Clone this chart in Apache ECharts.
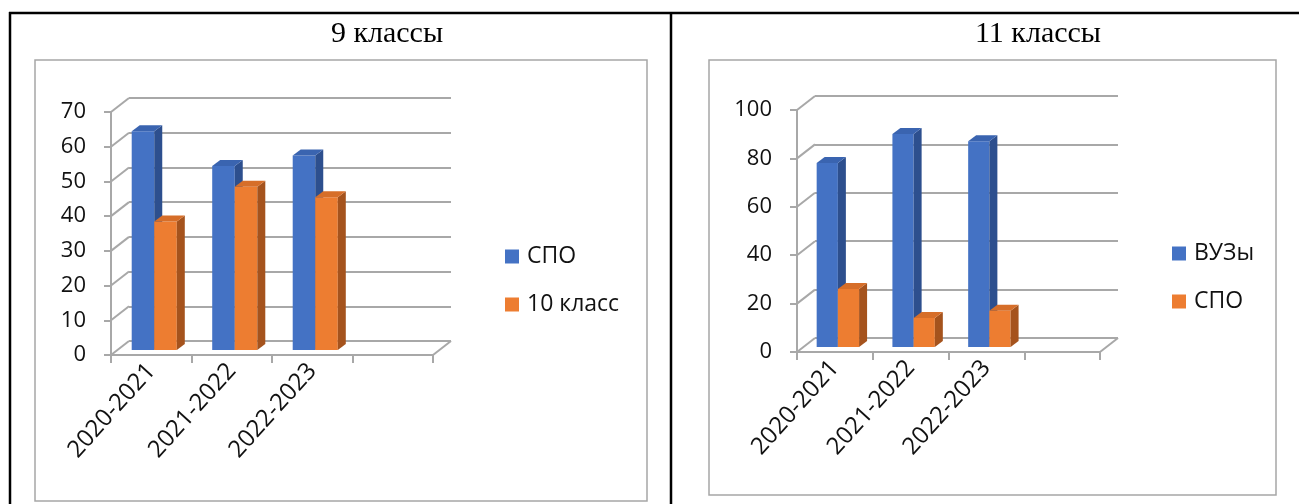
<!DOCTYPE html>
<html>
<head>
<meta charset="utf-8">
<script src="https://cdn.jsdelivr.net/npm/echarts@6/dist/echarts.min.js"></script>
<style>
  html, body { margin: 0; padding: 0; background: #fff; }
  #chart { width: 1299px; height: 504px; }
</style>
</head>
<body>
<div id="chart"></div>
<script>
// данные
var categories = ["2020-2021", "2021-2022", "2022-2023", ""];
var spo9 = [63, 53, 56];
var class10 = [37, 47, 44];
var vuz11 = [76, 88, 85];
var spo11 = [24, 12, 15];
var ticks9 = [0, 10, 20, 30, 40, 50, 60, 70];
var ticks11 = [0, 20, 40, 60, 80, 100];

// 3D look
var DX = 18, DY = -14; // back wall offset
var MX = 6, MY = -5;   // bars sit in the middle of the floor
var SD = 8, SH = 6;    // bar side depth
var BLUE = { front: "#4472C4", side: "#2D4F8E", top: "#3A64B0" };
var ORANGE = { front: "#ED7D31", side: "#A5531D", top: "#D66E29" };
var GRID_COLOR = "#A8A8A8";
var FONT = "Open Sans";

var chart = echarts.init(document.getElementById("chart"));

// one 3D bar
function barRender(side, col) {
  return function (params, api) {
    var i = api.value(0), v = api.value(1);
    var base = api.coord([i, 0]);
    var top = api.coord([i, v]);
    var slot = api.size([1, 0])[0];
    var bw = slot * 0.28;
    var x0 = base[0] - 3 - (side === 0 ? bw : 0) + MX;
    var x1 = x0 + bw;
    var yT = top[1] + MY, yB = base[1] + MY;
    return {
      type: "group",
      children: [
        { type: "rect", shape: { x: x0, y: yT, width: bw, height: yB - yT }, style: { fill: col.front } },
        { type: "polygon", shape: { points: [[x1, yT], [x1 + SD, yT - SH], [x1 + SD, yB - SH], [x1, yB]] }, style: { fill: col.side } },
        { type: "polygon", shape: { points: [[x0, yT], [x0 + SD, yT - SH], [x1 + SD, yT - SH], [x1, yT]] }, style: { fill: col.top } },
      ],
    };
  };
}

function barSeries(name, data, ax, side, col) {
  return {
    type: "custom",
    name: name,
    xAxisIndex: ax,
    yAxisIndex: ax,
    silent: true,
    z: 5,
    itemStyle: { color: col.front },
    data: data.map(function (v, i) { return [i, v]; }),
    renderItem: barRender(side, col),
  };
}

// diagonals from the front axis to the back wall
function frameSeries(ticks, ax) {
  return {
    type: "custom",
    xAxisIndex: ax,
    yAxisIndex: ax,
    silent: true,
    z: 1,
    data: ticks.map(function (t) { return [0, t]; }),
    renderItem: function (params, api) {
      var cs = params.coordSys;
      var y = api.coord([0, api.value(1)])[1];
      var st = { stroke: GRID_COLOR, lineWidth: 2 };
      var kids = [{ type: "line", shape: { x1: cs.x, y1: y, x2: cs.x + DX, y2: y + DY }, style: st }];
      if (api.value(1) === 0) {
        kids.push({ type: "line", shape: { x1: cs.x + cs.width, y1: y, x2: cs.x + cs.width + DX, y2: y + DY }, style: st });
      }
      return { type: "group", children: kids };
    },
  };
}

function frontX(ax) {
  return {
    type: "category",
    gridIndex: ax,
    data: categories,
    axisLine: { lineStyle: { color: GRID_COLOR, width: 2 } },
    axisTick: { show: true, length: 8, lineStyle: { color: GRID_COLOR, width: 2 } },
    axisLabel: { interval: 0, rotate: 48, margin: 12, fontSize: 24, fontFamily: FONT, color: "#111" },
  };
}
function backX(ax) {
  return { type: "category", gridIndex: ax, data: categories, show: false };
}
function frontY(ax, max, step) {
  return {
    type: "value",
    gridIndex: ax,
    min: 0,
    max: max,
    interval: step,
    splitLine: { show: false },
    axisLine: { show: true, lineStyle: { color: GRID_COLOR, width: 2 } },
    axisTick: { show: true, length: 7, lineStyle: { color: GRID_COLOR, width: 2 } },
    axisLabel: { margin: 25, fontSize: 22, fontFamily: FONT, color: "#111" },
  };
}
function backY(ax, max, step) {
  return {
    type: "value",
    gridIndex: ax,
    min: 0,
    max: max,
    interval: step,
    axisLine: { show: false },
    axisTick: { show: false },
    axisLabel: { show: false },
    splitLine: { show: true, lineStyle: { color: GRID_COLOR, width: 2 } },
  };
}

function legendCfg(left, top, items) {
  return {
    left: left,
    top: top,
    orient: "vertical",
    padding: 0,
    icon: "rect",
    itemWidth: 14,
    itemHeight: 14,
    itemGap: 25,
    selectedMode: false,
    textStyle: { fontSize: 23, fontFamily: FONT, color: "#111", padding: [0, 0, 0, 3] },
    data: items,
  };
}

var option = {
  animation: false,
  grid: [
    { left: 111, top: 112, width: 322, height: 243 },
    { left: 111 + DX, top: 112 + DY, width: 322, height: 243 },
    { left: 797, top: 110, width: 303, height: 242 },
    { left: 797 + DX, top: 110 + DY, width: 303, height: 242 },
  ],
  xAxis: [frontX(0), backX(1), frontX(2), backX(3)],
  yAxis: [frontY(0, 70, 10), backY(1, 70, 10), frontY(2, 100, 20), backY(3, 100, 20)],
  legend: [
    legendCfg(505, 245, [
      { name: "СПО", itemStyle: { color: BLUE.front } },
      { name: "10 класс", itemStyle: { color: ORANGE.front } },
    ]),
    legendCfg(1172, 242, [
      { name: "ВУЗы", itemStyle: { color: BLUE.front } },
      { name: "СПО", itemStyle: { color: ORANGE.front } },
    ]),
  ],
  graphic: [
    // рамка таблицы
    { type: "line", shape: { x1: 9, y1: 13, x2: 1299, y2: 13 }, style: { stroke: "#000", lineWidth: 2.5 } },
    { type: "line", shape: { x1: 10, y1: 12, x2: 10, y2: 504 }, style: { stroke: "#000", lineWidth: 2.5 } },
    { type: "line", shape: { x1: 671, y1: 12, x2: 671, y2: 504 }, style: { stroke: "#000", lineWidth: 2.5 } },
    // рамки диаграмм
    { type: "rect", shape: { x: 35, y: 60, width: 612, height: 441 }, style: { fill: "none", stroke: "#A6A6A6", lineWidth: 1.5 } },
    { type: "rect", shape: { x: 709, y: 60, width: 567, height: 435 }, style: { fill: "none", stroke: "#A6A6A6", lineWidth: 1.5 } },
    // заголовки
    { type: "text", x: 387, y: 34, style: { text: "9 классы", fontSize: 30, fontFamily: "Liberation Serif", fill: "#000", align: "center", verticalAlign: "middle" } },
    { type: "text", x: 1038, y: 34, style: { text: "11 классы", fontSize: 30, fontFamily: "Liberation Serif", fill: "#000", align: "center", verticalAlign: "middle" } },
  ],
  series: [
    frameSeries(ticks9, 0),
    frameSeries(ticks11, 2),
    barSeries("СПО", spo9, 0, 0, BLUE),
    barSeries("10 класс", class10, 0, 1, ORANGE),
    barSeries("ВУЗы", vuz11, 2, 0, BLUE),
    barSeries("СПО", spo11, 2, 1, ORANGE),
  ],
};

chart.setOption(option);
window.addEventListener("resize", function () {
  chart.resize();
});
</script>
</body>
</html>
